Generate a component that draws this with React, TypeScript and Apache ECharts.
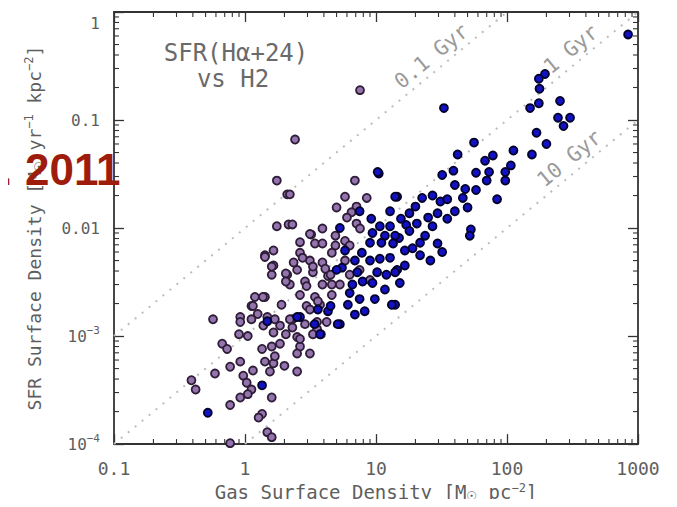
import { useEffect, useRef } from "react";
import * as echarts from "echarts";

// Gas surface density [Msun/pc^2], SFR surface density [Msun/yr/kpc^2]
const purplePoints: [number, number][] = [
  [7.55, 0.189], [2.41, 0.066], [1.75, 0.0275], [2.1, 0.0205], [2.2, 0.0205], [1.75, 0.0104],
  [2.15, 0.0108], [2.3, 0.0108], [3.2, 0.0087], [3.9, 0.0099], [2.63, 0.0074], [3.42, 0.0072],
  [3.9, 0.0072], [6.9, 0.0275], [5.8, 0.0195], [8.5, 0.019], [7.1, 0.0158], [5.0, 0.0155],
  [6.5, 0.014], [6.0, 0.0125], [7.1, 0.011], [7.55, 0.0099], [3.13, 0.0088], [5.8, 0.0076],
  [4.9, 0.0069], [2.63, 0.0059], [3.13, 0.005], [2.5, 0.0041], [3.3, 0.0039], [3.9, 0.0048],
  [4.6, 0.0059], [2.87, 0.0032], [3.9, 0.003], [4.6, 0.003], [2.63, 0.0024], [3.42, 0.0023],
  [4.6, 0.0024], [2.95, 0.0019], [3.74, 0.00195], [2.3, 0.00143], [2.87, 0.00129], [3.55, 0.00116],
  [2.5, 0.00098], [3.3, 0.00104], [3.8, 0.00104], [2.63, 0.0008], [1.42, 0.0056], [1.65, 0.0062],
  [1.65, 0.0045], [2.35, 0.0048], [1.6, 0.0037], [2.1, 0.0037], [2.2, 0.003], [1.19, 0.0023],
  [1.42, 0.0023], [1.12, 0.0019], [1.9, 0.00195], [1.25, 0.0016], [0.57, 0.00143], [0.92, 0.0015],
  [0.92, 0.00135], [1.12, 0.00143], [1.48, 0.0015], [1.69, 0.00143], [2.2, 0.00143], [1.38, 0.00125],
  [1.85, 0.00125], [0.9, 0.00104], [1.05, 0.001], [1.65, 0.00108], [2.05, 0.00104], [0.67, 0.00085],
  [0.73, 0.00076], [1.35, 0.00076], [1.6, 0.0008], [1.85, 0.00085], [0.92, 0.00058], [0.77, 0.00052],
  [0.59, 0.00045], [1.15, 0.00048], [1.42, 0.00058], [1.65, 0.00056], [2.0, 0.00053], [1.69, 0.00065],
  [2.5, 0.00047], [0.97, 0.00043], [0.39, 0.00039], [1.03, 0.00037], [0.42, 0.00032], [1.12, 0.00032],
  [0.92, 0.00027], [1.05, 0.00029], [0.77, 0.00023], [1.6, 0.00027], [1.35, 0.00019], [1.27, 0.000176],
  [1.48, 0.000129], [1.6, 0.000116], [0.77, 0.000102], [2.5, 0.00069], [1.55, 0.00047], [1.15, 0.0019],
  [1.37, 0.0023], [1.42, 0.0054], [1.6, 0.0044], [2.05, 0.0038], [2.75, 0.0053], [3.3, 0.0044],
  [2.05, 0.0032], [2.95, 0.0029], [2.3, 0.0012], [2.63, 0.00094], [3.13, 0.00069], [3.55, 0.00135],
  [4.2, 0.00135], [3.13, 0.00176], [3.6, 0.0021], [4.3, 0.0036], [4.1, 0.0042], [5.8, 0.005],
  [6.3, 0.0037], [7.5, 0.0041], [5.3, 0.003], [9.0, 0.0033], [4.5, 0.0037], [4.9, 0.0085],
  [6.3, 0.0069],
];

const bluePoints: [number, number][] = [
  [840, 0.62], [195, 0.267], [175, 0.241], [177, 0.195], [175, 0.143], [150, 0.129], [254, 0.15],
  [245, 0.105], [303, 0.105], [270, 0.088], [168, 0.0762], [200, 0.06], [112, 0.0522], [155, 0.048],
  [33, 0.129], [56, 0.0618], [42, 0.048], [78, 0.047], [68, 0.042], [107, 0.038], [39, 0.034],
  [32, 0.031], [58, 0.0325], [73, 0.033], [97, 0.033], [70, 0.0275], [97, 0.0275], [40, 0.025],
  [48, 0.023], [58, 0.0225], [14.5, 0.0195], [22.5, 0.019], [27, 0.02], [31, 0.0176], [35, 0.0185],
  [46, 0.019], [84, 0.0185], [50, 0.0155], [18, 0.0137], [29.5, 0.0137], [25, 0.0125], [17, 0.0107],
  [20.5, 0.011], [27, 0.0104], [53, 0.0097], [15, 0.0081], [21.7, 0.0073], [29.5, 0.0072], [19, 0.0065],
  [10.5, 0.032], [26, 0.005], [32, 0.006], [21.7, 0.0056], [16.6, 0.0045], [14.5, 0.0041], [14, 0.00195],
  [7.8, 0.0059], [9.0, 0.005], [10.7, 0.0052], [12.8, 0.0053], [5.5, 0.0043], [7.2, 0.0039],
  [10.2, 0.0039], [12, 0.0037], [14, 0.0039], [6.6, 0.003], [7.9, 0.0032], [9.4, 0.0031],
  [6.3, 0.0025], [7.5, 0.0022], [13.2, 0.00195], [5.3, 0.00129], [4.3, 0.0017], [2.63, 0.0015],
  [3.6, 0.00176], [10.3, 0.033], [14, 0.0195], [7.5, 0.0143], [5.3, 0.01], [9.2, 0.0122],
  [10.7, 0.0104], [12.8, 0.0104], [9.4, 0.009], [11.7, 0.0085], [14, 0.0085], [9.0, 0.0073],
  [11, 0.0073], [13.5, 0.0072], [1.48, 0.00137], [2.5, 0.0015], [0.52, 0.000195], [1.35, 0.00035],
  [4.5, 0.0019], [5.1, 0.00129], [3.74, 0.00104], [5.0, 0.0041], [18, 0.0094], [23.7, 0.0085],
  [35, 0.0122], [40, 0.0143], [15.5, 0.0122], [20, 0.0158], [12.8, 0.0143], [16.6, 0.0062],
  [6.9, 0.005], [5.8, 0.0062], [11.7, 0.0027], [9.8, 0.0022], [6.1, 0.00195], [8.2, 0.0017],
  [3.4, 0.00129], [6.9, 0.00158], [15.2, 0.0031], [52, 0.0085],
];

// Constant depletion-time lines (Gyr) and where their labels sit along the line (gas density)
const depletionGyr = [0.1, 1, 10];
const depletionLabels = ["0.1 Gyr", "1 Gyr", "10 Gyr"];
const depletionLabelGas = [31, 360, 350];

const xMin = 0.1, xMax = 1000, yMin = 1e-4, yMax = 1;
const yTickText: Record<string, string> = {
  "-4": "10{sup|−4}",
  "-3": "10{sup|−3}",
  "-2": "0.01",
  "-1": "0.1",
  "0": "1",
};

const AXIS_COLOR = "#333333";
const TEXT_COLOR = "#5e5e5e";
const FONT = "DejaVu Sans Mono";

function depletionLine(t: number): [number, number][] {
  // SFR [Msun/yr/kpc^2] = gas [Msun/pc^2] * 1e6 / (t * 1e9)
  const k = 1e-3 / t;
  const g0 = Math.max(xMin, yMin / k);
  const g1 = Math.min(xMax, yMax / k);
  return [[g0, g0 * k], [g1, g1 * k]];
}

export default function App() {
  const ref = useRef<HTMLDivElement>(null);
  useEffect(() => {
    if (!ref.current) return;
    const chart = echarts.init(ref.current, undefined, { renderer: "svg" });
    const nameRich = {
      sup: { fontSize: 12, lineHeight: 12, verticalAlign: "top", fontFamily: FONT, color: TEXT_COLOR },
      sub: { fontSize: 12, lineHeight: 12, verticalAlign: "bottom", fontFamily: "DejaVu Sans", color: TEXT_COLOR },
    };
    const logAxisCommon = {
      type: "log",
      logBase: 10,
      axisLine: { show: true, lineStyle: { color: AXIS_COLOR, width: 1.8 } },
      axisTick: { show: true, inside: true, length: 10, lineStyle: { color: AXIS_COLOR, width: 1.3 } },
      splitLine: { show: false },
    };
    chart.setOption({
      animation: false,
      backgroundColor: "#ffffff",
      grid: { left: 114, right: 39, top: 12, bottom: 55, containLabel: false },
      xAxis: [
        {
          ...logAxisCommon,
          min: xMin,
          max: xMax,
          position: "bottom",
          axisLabel: {
            show: true,
            margin: 15,
            color: TEXT_COLOR,
            fontFamily: FONT,
            fontSize: 18,
            formatter: (v: number) => (v < 1 ? String(Number(v.toPrecision(2))) : String(Math.round(v))),
          },
          name: "Gas Surface Density [M{sub|☉} pc{sup|−2}]",
          nameLocation: "middle",
          nameGap: 27,
          nameTextStyle: { color: TEXT_COLOR, fontFamily: FONT, fontSize: 19, lineHeight: 20, rich: nameRich },
        },
        {
          ...logAxisCommon,
          min: xMin,
          max: xMax,
          position: "top",
          axisLabel: { show: false },
        },
      ],
      yAxis: [
        {
          ...logAxisCommon,
          min: yMin,
          max: yMax,
          position: "left",
          axisLabel: {
            show: true,
            margin: 14,
            color: TEXT_COLOR,
            fontFamily: FONT,
            fontSize: 16,
            lineHeight: 22,
            verticalAlignMaxLabel: "top",
            rich: { sup: { fontSize: 11, lineHeight: 11, verticalAlign: "top", fontFamily: FONT, color: TEXT_COLOR } },
            formatter: (v: number) => yTickText[String(Math.round(Math.log10(v)))] ?? "",
          },
          name: "SFR Surface Density [M{sub|☉} yr{sup|−1} kpc{sup|−2}]",
          nameLocation: "middle",
          nameGap: 69,
          nameRotate: 90,
          nameTextStyle: { color: TEXT_COLOR, fontFamily: FONT, fontSize: 18, lineHeight: 22, rich: nameRich },
        },
        {
          ...logAxisCommon,
          min: yMin,
          max: yMax,
          position: "right",
          axisLabel: { show: false },
        },
      ],
      series: [
        ...depletionGyr.map((t) => ({
          type: "line",
          data: depletionLine(t),
          symbol: "none",
          silent: true,
          z: 1,
          lineStyle: { color: "#bdbdbd", width: 2, type: [2, 7] },
        })),
        {
          type: "scatter",
          data: purplePoints,
          symbol: "circle",
          symbolSize: 8,
          z: 3,
          itemStyle: { color: "#9474ac", borderColor: "#2e1c38", borderWidth: 1.8, opacity: 1 },
        },
        {
          type: "scatter",
          data: bluePoints,
          symbol: "circle",
          symbolSize: 8,
          z: 4,
          itemStyle: { color: "#1212c4", borderColor: "#02022a", borderWidth: 1.8, opacity: 1 },
        },
      ],
    });

    // Minor ticks (2..9 per decade) on all four sides, positioned via the axes' own scales
    const graphics: any[] = [];
    const [xLeft, yBottom] = chart.convertToPixel({ gridIndex: 0 }, [xMin, yMin]) as number[];
    const [xRight, yTop] = chart.convertToPixel({ gridIndex: 0 }, [xMax, yMax]) as number[];
    const minorLen = 5;
    const tickStyle = { stroke: AXIS_COLOR, lineWidth: 1.1 };
    for (let e = -1; e < 3; e++) {
      for (let m = 2; m <= 9; m++) {
        const v = m * Math.pow(10, e);
        const px = chart.convertToPixel({ xAxisIndex: 0 }, v) as number;
        graphics.push({ type: "line", shape: { x1: px, y1: yBottom, x2: px, y2: yBottom - minorLen }, style: tickStyle, silent: true });
        graphics.push({ type: "line", shape: { x1: px, y1: yTop, x2: px, y2: yTop + minorLen }, style: tickStyle, silent: true });
      }
    }
    for (let e = -4; e < 0; e++) {
      for (let m = 2; m <= 9; m++) {
        const v = m * Math.pow(10, e);
        const py = chart.convertToPixel({ yAxisIndex: 0 }, v) as number;
        graphics.push({ type: "line", shape: { x1: xLeft, y1: py, x2: xLeft + minorLen, y2: py }, style: tickStyle, silent: true });
        graphics.push({ type: "line", shape: { x1: xRight, y1: py, x2: xRight - minorLen, y2: py }, style: tickStyle, silent: true });
      }
    }

    // Depletion-time labels, rotated along the lines
    const a = chart.convertToPixel({ gridIndex: 0 }, [1, 1e-3]) as number[];
    const b = chart.convertToPixel({ gridIndex: 0 }, [10, 1e-2]) as number[];
    const theta = Math.atan2(a[1] - b[1], b[0] - a[0]);
    depletionGyr.forEach((t, i) => {
      const g = depletionLabelGas[i];
      const p = chart.convertToPixel({ gridIndex: 0 }, [g, (g * 1e-3) / t]) as number[];
      const off = 14;
      graphics.push({
        type: "text",
        x: p[0] - Math.sin(theta) * off,
        y: p[1] - Math.cos(theta) * off,
        rotation: theta,
        z: 10,
        style: {
          text: depletionLabels[i],
          font: `21px "${FONT}"`,
          fill: "#9a9a9a",
          textAlign: "center",
          textVerticalAlign: "middle",
          align: "center",
          verticalAlign: "middle",
        },
      });
    });

    const titleStyle = {
      font: `24px "${FONT}"`,
      fill: "#6a6a6a",
      textAlign: "center",
      textVerticalAlign: "middle",
      align: "center",
      verticalAlign: "middle",
    };
    graphics.push({ type: "text", x: 236, y: 53, z: 10, style: { ...titleStyle, text: "SFR(Hα+24)" } });
    graphics.push({ type: "text", x: 233, y: 79, z: 10, style: { ...titleStyle, text: "vs H2" } });

    const redStyle = {
      font: `bold 44px "Liberation Sans"`,
      fill: "#9e1c0c",
      textAlign: "left",
      textVerticalAlign: "middle",
      align: "left",
      verticalAlign: "middle",
    };
    graphics.push({ type: "text", x: 0, y: 169, z: 20, style: { ...redStyle, text: "." } });
    graphics.push({ type: "text", x: 25, y: 169, z: 20, style: { ...redStyle, text: "2011" } });

    chart.setOption({ graphic: graphics });
    return () => chart.dispose();
  }, []);
  return <div ref={ref} style={{ width: 677, height: 507, margin: -8 }} />;
}
